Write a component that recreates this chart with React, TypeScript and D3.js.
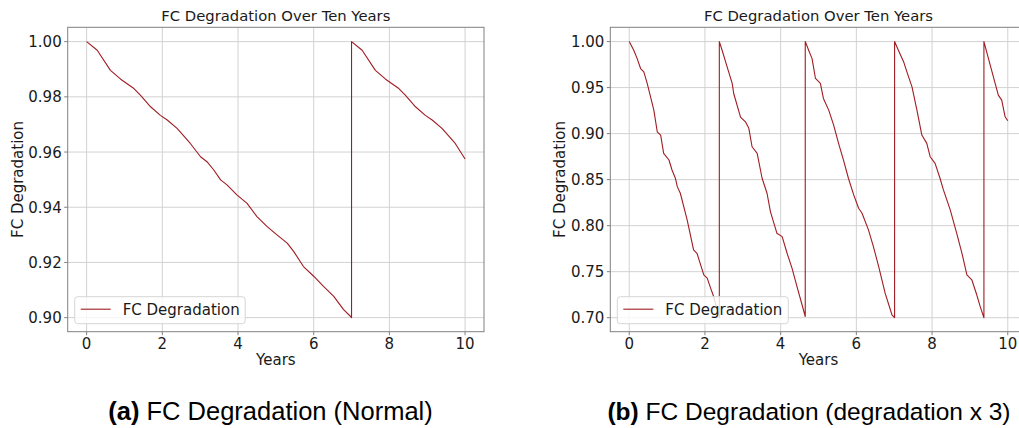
import React from "react";
import * as d3 from "d3";

// ---------- data ----------
const xTicks = [0, 2, 4, 6, 8, 10];
const leftYTicks = [0.9, 0.92, 0.94, 0.96, 0.98, 1.0];
const rightYTicks = [0.7, 0.75, 0.8, 0.85, 0.9, 0.95, 1.0];

const leftYears = [
  0, 0.28, 0.63, 0.9, 1.25, 1.42, 1.69, 1.95, 2.13, 2.39, 2.74, 3.01, 3.18, 3.36, 3.54, 3.71,
  3.97, 4.24, 4.5, 4.77, 5.03, 5.3, 5.47, 5.73, 6.0, 6.26, 6.53, 6.79, 6.97, 7.0, 7.0,
  7.28, 7.63, 7.9, 8.25, 8.42, 8.69, 8.95, 9.13, 9.39, 9.74, 10.0,
];
const leftValues = [
  1.0, 0.9969, 0.9896, 0.9864, 0.983, 0.9806, 0.9764, 0.9733, 0.9716, 0.9686, 0.9631, 0.9583,
  0.9565, 0.9535, 0.9499, 0.9481, 0.9445, 0.9414, 0.9366, 0.933, 0.93, 0.927, 0.924, 0.9185,
  0.915, 0.9113, 0.9077, 0.9029, 0.9005, 0.9, 1.0,
  0.9969, 0.9896, 0.9864, 0.983, 0.9806, 0.9764, 0.9733, 0.9716, 0.9686, 0.9631, 0.9575,
];

const rightYears = [
  0, 0.12, 0.21, 0.3, 0.385, 0.475, 0.65, 0.74, 0.83, 0.91, 1.05, 1.13, 1.22, 1.27, 1.35, 1.53,
  1.7, 1.79, 1.97, 2.06, 2.15, 2.23, 2.3, 2.38, 2.38,
  2.454, 2.586, 2.72, 2.76, 2.94, 3.07, 3.16, 3.245, 3.38, 3.51, 3.64, 3.73, 3.9, 4.04, 4.17,
  4.3, 4.43, 4.565, 4.65, 4.65,
  4.74, 4.83, 4.92, 5.05, 5.13, 5.27, 5.4, 5.53, 5.66, 5.79, 5.93, 6.06, 6.15, 6.32, 6.45, 6.59,
  6.76, 6.94, 7.01, 7.01,
  7.11, 7.25, 7.335, 7.47, 7.6, 7.73, 7.86, 7.95, 8.08, 8.21, 8.3, 8.48, 8.65, 8.79, 8.92, 9.05,
  9.18, 9.27, 9.37, 9.37,
  9.49, 9.62, 9.75, 9.84, 9.93, 10.0,
];
const rightValues = [
  1.0, 0.9906, 0.9815, 0.9707, 0.967, 0.9545, 0.9255, 0.902, 0.8984, 0.8786, 0.8713, 0.8605,
  0.8515, 0.8424, 0.8352, 0.8062, 0.7737, 0.77, 0.7466, 0.743, 0.7322, 0.723, 0.712, 0.7, 1.0,
  0.9906, 0.9725, 0.9545, 0.9436, 0.918, 0.9128, 0.9057, 0.8857, 0.8786, 0.8515, 0.8352, 0.8153,
  0.7918, 0.7881, 0.77, 0.7539, 0.734, 0.7141, 0.7013, 1.0,
  0.9906, 0.9815, 0.9599, 0.9545, 0.9382, 0.9255, 0.9093, 0.8894, 0.8713, 0.8515, 0.8334, 0.8189,
  0.8135, 0.7954, 0.7773, 0.7556, 0.7267, 0.7032, 0.7, 1.0,
  0.9906, 0.9779, 0.967, 0.9508, 0.9255, 0.8984, 0.8894, 0.8749, 0.8677, 0.8515, 0.8388, 0.8171,
  0.7918, 0.77, 0.7466, 0.7412, 0.7249, 0.7123, 0.7, 1.0,
  0.9815, 0.9617, 0.9418, 0.9364, 0.9183, 0.914,
];

const chartTitle = "FC Degradation Over Ten Years";
const xLabel = "Years";
const yLabel = "FC Degradation";
const legendLabel = "FC Degradation";

// ---------- styles ----------
const LINE = "#a01c22";
const SPINE = "#808080";
const GRID = "#d2d2d2";
const TEXT = "#1a1a1a";
const FONT = "DejaVu Sans, sans-serif";
const FS = 15;

type PanelProps = {
  left: number;
  right: number;
  top: number;
  bottom: number;
  yDomain: [number, number];
  yTicks: number[];
  years: number[];
  values: number[];
  ylabelX: number;
  legendW: number;
};

function Panel(p: PanelProps) {
  const x = d3.scaleLinear().domain([-0.5, 10.5]).range([p.left, p.right]);
  const y = d3.scaleLinear().domain(p.yDomain).range([p.bottom, p.top]);
  const pts = p.years.map((t, i) => [t, p.values[i]] as [number, number]);
  const line = d3
    .line<[number, number]>()
    .x((d) => x(d[0]))
    .y((d) => y(d[1]));
  const cx = (p.left + p.right) / 2;
  const cy = (p.top + p.bottom) / 2;
  const lgX = p.left + 7;
  const lgY = p.bottom - 35;
  return (
    <g>
      {xTicks.map((t) => (
        <line key={"gx" + t} x1={x(t)} x2={x(t)} y1={p.top} y2={p.bottom} stroke={GRID} strokeWidth={1} />
      ))}
      {p.yTicks.map((t) => (
        <line key={"gy" + t} x1={p.left} x2={p.right} y1={y(t)} y2={y(t)} stroke={GRID} strokeWidth={1} />
      ))}
      <path d={line(pts) || ""} fill="none" stroke={LINE} strokeWidth={1.1} strokeLinejoin="round" />
      <rect x={p.left} y={p.top} width={p.right - p.left} height={p.bottom - p.top} fill="none" stroke={SPINE} strokeWidth={1} />
      {xTicks.map((t) => (
        <g key={"xt" + t}>
          <line x1={x(t)} x2={x(t)} y1={p.bottom} y2={p.bottom + 3.5} stroke={SPINE} />
          <text x={x(t)} y={p.bottom + 17} textAnchor="middle" fontSize={FS} fill={TEXT} fontFamily={FONT}>
            {d3.format("d")(t)}
          </text>
        </g>
      ))}
      {p.yTicks.map((t) => (
        <g key={"yt" + t}>
          <line x1={p.left - 3.5} x2={p.left} y1={y(t)} y2={y(t)} stroke={SPINE} />
          <text x={p.left - 6} y={y(t) + 5.5} textAnchor="end" fontSize={FS} fill={TEXT} fontFamily={FONT}>
            {d3.format(".2f")(t)}
          </text>
        </g>
      ))}
      <text x={cx} y={p.top - 6} textAnchor="middle" fontSize={14.8} fill={TEXT} fontFamily={FONT}>
        {chartTitle}
      </text>
      <text x={cx} y={p.bottom + 33} textAnchor="middle" fontSize={FS} fill={TEXT} fontFamily={FONT}>
        {xLabel}
      </text>
      <text
        transform={`translate(${p.ylabelX},${cy}) rotate(-90)`}
        textAnchor="middle"
        fontSize={FS}
        fill={TEXT}
        fontFamily={FONT}
      >
        {yLabel}
      </text>
      <rect x={lgX} y={lgY} width={p.legendW} height={27} rx={3} fill="white" fillOpacity={0.8} stroke="#d6d6d6" strokeWidth={1} />
      <line x1={lgX + 6} x2={lgX + 36} y1={lgY + 12.5} y2={lgY + 12.5} stroke={LINE} strokeWidth={1.1} />
      <text x={lgX + 48} y={lgY + 18.5} fontSize={FS} fill={TEXT} fontFamily={FONT}>
        {legendLabel}
      </text>
    </g>
  );
}

export default function App() {
  return (
    <svg
      width={1019}
      height={428}
      style={{ position: "absolute", left: 0, top: 0, background: "white" }}
    >
      <rect x={0} y={0} width={1019} height={428} fill="white" />
      <Panel
        left={67.7}
        right={484}
        top={27.3}
        bottom={331.7}
        yDomain={[0.8949, 1.0052]}
        yTicks={leftYTicks}
        years={leftYears}
        values={leftValues}
        ylabelX={23}
        legendW={170.5}
      />
      <Panel
        left={610.3}
        right={1026.7}
        top={27.3}
        bottom={331.7}
        yDomain={[0.6848, 1.0155]}
        yTicks={rightYTicks}
        years={rightYears}
        values={rightValues}
        ylabelX={565}
        legendW={171}
      />
      <text x={270.5} y={420} textAnchor="middle" fontSize={25.5} fill="#000" fontFamily="Liberation Sans, Arial, sans-serif">
        <tspan fontWeight="bold">(a)</tspan> FC Degradation (Normal)
      </text>
      <text x={809} y={420} textAnchor="middle" fontSize={24.5} fill="#000" fontFamily="Liberation Sans, Arial, sans-serif">
        <tspan fontWeight="bold">(b)</tspan> FC Degradation (degradation x 3)
      </text>
    </svg>
  );
}
